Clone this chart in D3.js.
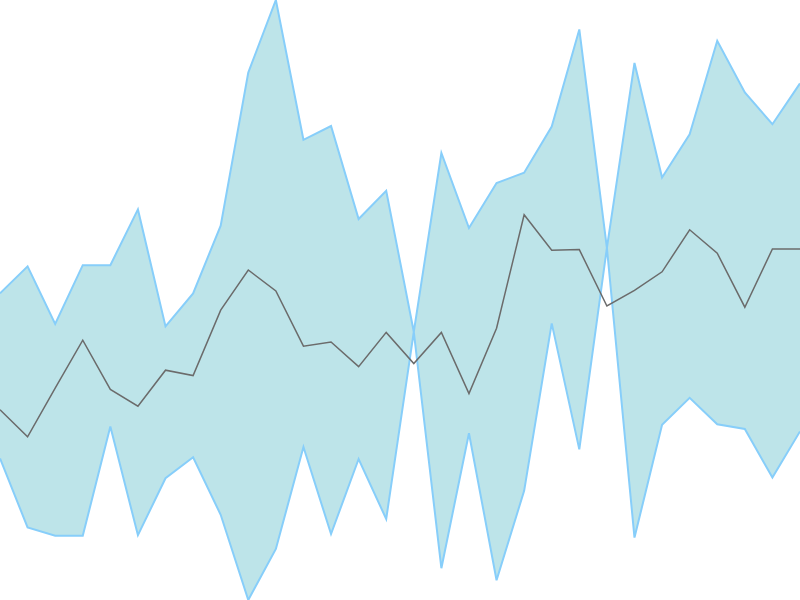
<!DOCTYPE html>
<html>
<head>
<meta charset="utf-8">
<script src="https://cdn.jsdelivr.net/npm/d3@7"></script>
<style>
html, body { margin: 0; padding: 0; background: #fff; }
svg { display: block; }
</style>
</head>
<body>
<svg id="chart" width="800" height="600"></svg>
<script>
const indices = d3.range(30);
const upperValues = [51.1, 55.6, 46.0, 55.8, 55.8, 65.1, 45.6, 51.1, 62.4, 87.9,
  100, 76.7, 79.0, 63.5, 68.2, 44.7, 74.5, 62.0, 69.5, 71.2,
  78.9, 95.1, 58.7, 89.5, 70.4, 77.6, 93.2, 84.6, 79.3, 86.1];
const lowerValues = [23.6, 12.1, 10.7, 10.7, 28.9, 10.8, 20.3, 23.8, 14.2, 0.0,
  8.5, 25.5, 11.0, 23.5, 13.5, 44.7, 5.3, 27.8, 3.3, 18.2,
  46.1, 25.1, 58.7, 10.4, 29.2, 33.7, 29.3, 28.5, 20.4, 28.1];
const meanValues = [31.7, 27.2, 35.3, 43.3, 35.1, 32.3, 38.3, 37.4, 48.3, 55.0,
  51.5, 42.3, 43.0, 38.9, 44.6, 39.4, 44.6, 34.4, 45.3, 64.2,
  58.3, 58.4, 49.0, 51.6, 54.7, 61.7, 57.8, 48.8, 58.5, 58.5];

const width = 800, height = 600;
const svg = d3.select("#chart");

const x = d3.scaleLinear().domain([0, indices.length - 1]).range([0, width]);
const y = d3.scaleLinear().domain([0, 100]).range([height, 0]);

const area = d3.area()
  .x(i => x(i))
  .y0(i => y(lowerValues[i]))
  .y1(i => y(upperValues[i]));

svg.append("path")
  .datum(indices)
  .attr("d", area)
  .attr("fill", "#bde4e9")
  .attr("stroke", "none");

const upperLine = d3.line().x(i => x(i)).y(i => y(upperValues[i]));
const lowerLine = d3.line().x(i => x(i)).y(i => y(lowerValues[i]));
const meanLine = d3.line().x(i => x(i)).y(i => y(meanValues[i]));

svg.append("path").datum(indices).attr("d", upperLine)
  .attr("fill", "none").attr("stroke", "#87cefa").attr("stroke-width", 2);
svg.append("path").datum(indices).attr("d", lowerLine)
  .attr("fill", "none").attr("stroke", "#87cefa").attr("stroke-width", 2);
svg.append("path").datum(indices).attr("d", meanLine)
  .attr("fill", "none").attr("stroke", "#6b6b6b").attr("stroke-width", 1.5);
</script>
</body>
</html>
